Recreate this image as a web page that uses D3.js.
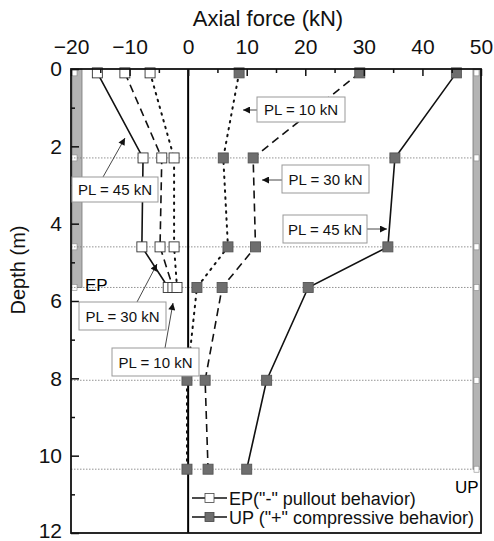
<!DOCTYPE html>
<html>
<head>
<meta charset="utf-8">
<script src="https://cdn.jsdelivr.net/npm/d3@7"></script>
<style>
  body { margin: 0; background: #fff; }
  text { font-family: "Liberation Sans", Arial, sans-serif; }
</style>
</head>
<body>
<div id="drawing"></div>
<script>
// data
var depths = [0.1, 2.3, 4.6, 5.65, 8.05, 10.35];
var epDepths = [0.1, 2.3, 4.6, 5.65];
var ep10 = [-6.5, -2.4, -2.4, -1.9];
var ep30 = [-10.8, -4.5, -4.8, -2.6];
var ep45 = [-15.5, -7.7, -7.9, -3.4];
var up10 = [8.7, 6.0, 6.8, 1.5, -0.2, -0.2];
var up30 = [29.3, 11.1, 11.5, 5.8, 2.9, 3.4];
var up45 = [45.8, 35.3, 34.1, 20.5, 13.4, 10.0];
var gaugeDepths = [2.3, 4.6, 5.65, 8.05, 10.35];
var xTicks = [-20, -10, 0, 10, 20, 30, 40, 50];
var yTicks = [0, 2, 4, 6, 8, 10, 12];
var legendLabels = ['EP("-" pullout behavior)', 'UP ("+" compressive behavior)'];

var width = 494, height = 541;
var x0 = 71, x1 = 481, y0 = 69, y1 = 533;

var svg = d3.select("#drawing").append("svg")
  .attr("width", width).attr("height", height);

var defs = svg.append("defs");
defs.append("marker")
  .attr("id", "arr").attr("viewBox", "0 0 10 10")
  .attr("refX", 10).attr("refY", 5)
  .attr("markerWidth", 9).attr("markerHeight", 7)
  .attr("markerUnits", "userSpaceOnUse")
  .attr("orient", "auto")
  .append("path").attr("d", "M0,0L10,5L0,10Z").attr("fill", "#111");

var xScale = d3.scaleLinear().domain([-20, 50]).range([x0, x1]);
var yScale = d3.scaleLinear().domain([0, 12]).range([y0, y1]);

// gray bars for EP and UP
svg.append("rect")
  .attr("x", x0 + 1).attr("y", y0)
  .attr("width", 10).attr("height", yScale(5.65) - y0)
  .attr("fill", "#b4b4b4").attr("stroke", "#777").attr("stroke-width", 0.8);
svg.append("rect")
  .attr("x", x1 - 8).attr("y", y0)
  .attr("width", 8).attr("height", yScale(10.35) - y0)
  .attr("fill", "#b4b4b4").attr("stroke", "#777").attr("stroke-width", 0.8);

// small gauge marks on the bars
svg.selectAll(".gEP").data([0.1, 2.3, 4.6, 5.65]).enter().append("rect")
  .attr("x", x0 + 1).attr("y", (d) => yScale(d) - 3)
  .attr("width", 5).attr("height", 6)
  .attr("fill", "#fff").attr("stroke", "#888").attr("stroke-width", 0.6);
svg.selectAll(".gUP").data([0.1, 2.3, 4.6, 5.65, 8.05, 10.35]).enter().append("rect")
  .attr("x", x1 - 7).attr("y", (d) => yScale(d) - 3)
  .attr("width", 5).attr("height", 6)
  .attr("fill", "#fff").attr("stroke", "#888").attr("stroke-width", 0.6);

// dotted gauge lines
svg.selectAll(".gauge").data(gaugeDepths).enter().append("line")
  .attr("x1", x0).attr("x2", x1 - 8)
  .attr("y1", (d) => yScale(d)).attr("y2", (d) => yScale(d))
  .attr("stroke", "#777").attr("stroke-width", 0.8)
  .attr("stroke-dasharray", "1.5,1.5");

// zero line
svg.append("line")
  .attr("x1", xScale(0)).attr("x2", xScale(0))
  .attr("y1", y0).attr("y2", y1)
  .attr("stroke", "#000").attr("stroke-width", 2);

var lineGen = d3.line().x((d) => xScale(d[0])).y((d) => yScale(d[1]));

var series = [
  { v: ep45, d: epDepths, dash: null, fill: "#fff" },
  { v: ep30, d: epDepths, dash: "8,5", fill: "#fff" },
  { v: ep10, d: epDepths, dash: "1.5,5.5", fill: "#fff" },
  { v: up45, d: depths, dash: null, fill: "#6e6e6e" },
  { v: up30, d: depths, dash: "8,5", fill: "#6e6e6e" },
  { v: up10, d: depths, dash: "1.5,5.5", fill: "#6e6e6e" }
];

series.forEach(function (s) {
  var pts = s.v.map((v, i) => [v, s.d[i]]);
  var dotted = s.dash && s.dash.startsWith("1.5");
  svg.append("path")
    .attr("d", lineGen(pts))
    .attr("fill", "none").attr("stroke", "#111")
    .attr("stroke-width", dotted ? 2 : 1.6)
    .attr("stroke-linecap", dotted ? "round" : "butt")
    .attr("stroke-dasharray", s.dash);
});
series.forEach(function (s) {
  var pts = s.v.map((v, i) => [v, s.d[i]]);
  svg.selectAll(null).data(pts).enter().append("rect")
    .attr("x", (d) => xScale(d[0]) - 5).attr("y", (d) => yScale(d[1]) - 5)
    .attr("width", 10).attr("height", 10)
    .attr("fill", s.fill).attr("stroke", s.fill == "#fff" ? "#333" : "#555")
    .attr("stroke-width", 0.9);
});

// axes
var topAxis = svg.append("g").attr("transform", `translate(0,${y0})`)
  .call(d3.axisTop(xScale).tickValues(xTicks).tickSize(-7).tickPadding(15).tickFormat(d3.format("d")));
var topMinor = svg.append("g").attr("transform", `translate(0,${y0})`)
  .call(d3.axisTop(xScale).tickValues(d3.range(-15, 50, 10)).tickSize(-4).tickFormat(""));
var leftAxis = svg.append("g").attr("transform", `translate(${x0},0)`)
  .call(d3.axisLeft(yScale).tickValues(yTicks).tickSize(-8).tickPadding(9));
var leftMinor = svg.append("g").attr("transform", `translate(${x0},0)`)
  .call(d3.axisLeft(yScale).tickValues(d3.range(1, 12, 2)).tickSize(-4).tickFormat(""));

[topAxis, topMinor, leftAxis, leftMinor].forEach(function (a) {
  a.select(".domain").remove();
  a.selectAll("line").attr("stroke", "#111").attr("stroke-width", 1.5);
  a.selectAll("text").attr("font-size", 21).attr("fill", "#111")
    .style("font-family", '"Liberation Sans", Arial, sans-serif');
});
leftAxis.selectAll("text").attr("dy", (d) => d == 12 ? "0.2em" : "0.32em");

// frame
svg.append("rect")
  .attr("x", x0).attr("y", y0).attr("width", x1 - x0).attr("height", y1 - y0)
  .attr("fill", "none").attr("stroke", "#111").attr("stroke-width", 1.8);

// axis titles
svg.append("text").attr("x", (x0 + x1) / 2 - 8).attr("y", 26)
  .attr("text-anchor", "middle").attr("font-size", 22).attr("fill", "#111")
  .text("Axial force (kN)");
svg.append("text")
  .attr("transform", "translate(25,270) rotate(-90)")
  .attr("text-anchor", "middle").attr("font-size", 20).attr("fill", "#111")
  .text("Depth (m)");

// EP / UP labels
svg.append("text").attr("x", 85).attr("y", 291).attr("font-size", 17).text("EP");
svg.append("text").attr("x", 455).attr("y", 493).attr("font-size", 17).text("UP");

// annotation boxes: [label, box x, box y, box w, box h, arrow from, arrow to]
var notes = [
  ["PL = 10 kN", 257, 97, 88, 25, [257, 110], [243, 110]],
  ["PL = 30 kN", 282, 165, 87, 28, [282, 180], [262, 180]],
  ["PL = 45 kN", 283, 215, 84, 28, [367, 229], [387, 229]],
  ["PL = 45 kN", 72, 177, 86, 25, [103, 177], [125, 138]],
  ["PL = 30 kN", 79, 302, 87, 28, [137, 302], [157, 264]],
  ["PL = 10 kN", 112, 348, 87, 28, [165, 348], [173, 303]]
];
notes.forEach(function (n) {
  svg.append("line")
    .attr("x1", n[5][0]).attr("y1", n[5][1]).attr("x2", n[6][0]).attr("y2", n[6][1])
    .attr("stroke", "#333").attr("stroke-width", 0.9)
    .attr("marker-end", "url(#arr)");
  svg.append("rect")
    .attr("x", n[1]).attr("y", n[2]).attr("width", n[3]).attr("height", n[4])
    .attr("fill", "#fff").attr("stroke", "#999").attr("stroke-width", 1);
  svg.append("text")
    .attr("x", n[1] + n[3] / 2).attr("y", n[2] + n[4] / 2 + 5.5)
    .attr("text-anchor", "middle").attr("font-size", 15).attr("fill", "#111")
    .text(n[0]);
});

// legend
var legend = svg.append("g");
legendLabels.forEach(function (lab, i) {
  var ly = 498 + i * 19;
  legend.append("line").attr("x1", 192).attr("x2", 227).attr("y1", ly).attr("y2", ly)
    .attr("stroke", "#111").attr("stroke-width", 1.5);
  legend.append("rect").attr("x", 205).attr("y", ly - 4.5).attr("width", 9).attr("height", 9)
    .attr("fill", i == 0 ? "#fff" : "#6e6e6e").attr("stroke", "#444").attr("stroke-width", 0.8);
  legend.append("text").attr("x", 229).attr("y", ly + 6.5)
    .attr("font-size", 18).attr("fill", "#111").text(lab);
});
</script>
</body>
</html>
